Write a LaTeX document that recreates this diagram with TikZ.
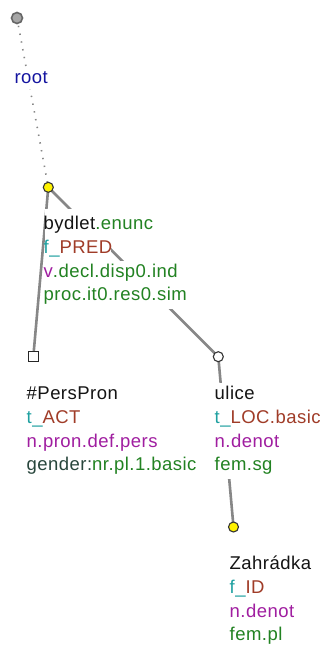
\documentclass[tikz,border=0pt]{standalone}
\usepackage{fontspec}
\setmainfont[LetterSpace=2.5]{Liberation Sans}
\usetikzlibrary{backgrounds}
\definecolor{lemma}{RGB}{20,20,20}
\definecolor{gr}{RGB}{34,130,34}
\definecolor{pu}{RGB}{160,30,160}
\definecolor{te}{RGB}{30,160,160}
\definecolor{br}{RGB}{160,60,40}
\definecolor{rootblue}{RGB}{20,20,160}
\definecolor{dslate}{RGB}{40,70,60}
\definecolor{edgegray}{RGB}{135,135,135}
\begin{document}
\begin{tikzpicture}[x=1pt,y=-1pt,
  lab/.style={anchor=base west,fill=white,inner ysep=0pt,inner xsep=-1.5pt,text height=16pt,text depth=8.5pt,font=\fontsize{18.5}{24}\selectfont},
  tnode/.style={circle,draw=black!80,line width=1.1pt,minimum size=10pt,inner sep=0pt},
  sqnode/.style={rectangle,draw=black!85,fill=white,line width=1.1pt,minimum size=10pt,inner sep=0pt},
  edge/.style={draw=edgegray,line width=2.6pt},
  rootedge/.style={draw=edgegray,line width=1.6pt,dash pattern=on 1.4pt off 6.5pt}]
\useasboundingbox (0,0) rectangle (324,648);
% tree nodes
\node[tnode,fill=gray!70,draw=black!60,line width=1.6pt,minimum size=11pt] (root) at (17,18) {};
\node[tnode,fill=yellow] (byd) at (48.3,187.3) {};
\node[sqnode] (pers) at (33.3,356.7) {};
\node[tnode,fill=white] (uli) at (218.3,356.7) {};
\node[tnode,fill=yellow] (zah) at (233.5,527) {};
% edges
\begin{scope}[on background layer]
\fill[white] (0,0) rectangle (324,648);
\draw[rootedge] (root.center) -- (byd.center);
\draw[edge] (byd.center) -- (pers.center);
\draw[edge] (byd.center) -- (uli.center);
\draw[edge] (uli.center) -- (zah.center);
\end{scope}
% labels
\node[lab,inner sep=2pt,text height=14pt,text depth=4pt,text=rootblue] (rl) at (12.3,83.3) {root};
\node[lab,text height=20pt] (b1) at (45,229.3) {\textcolor{lemma}{bydlet}\textcolor{gr}{.enunc}};
\node[lab] (b2) at (45,253) {\textcolor{te}{f\_}\textcolor{br}{PRED}};
\node[lab] (b3) at (45,277) {\textcolor{pu}{v}\textcolor{gr}{.decl.disp0.ind}};
\node[lab,text=gr] (b4) at (45,300.7) {proc.it0.res0.sim};
\node[lab,text=lemma] (p1) at (28,399.3) {\#PersPron};
\node[lab] (p2) at (28,423) {\textcolor{te}{t\_}\textcolor{br}{ACT}};
\node[lab,text=pu] (p3) at (28,447) {n.pron.def.pers};
\node[lab] (p4) at (28,470.7) {\textcolor{dslate}{gender:}\textcolor{gr}{nr.pl.1.basic}};
\node[lab,text=lemma] (u1) at (216,399.3) {ulice};
\node[lab] (u2) at (216,423) {\textcolor{te}{t\_}\textcolor{br}{LOC.basic}};
\node[lab,text=pu] (u3) at (216,447) {n.denot};
\node[lab,text=gr] (u4) at (216,470.7) {fem.sg};
\node[lab,text=lemma] (z1) at (231,569) {Zahrádka};
\node[lab] (z2) at (231,593) {\textcolor{te}{f\_}\textcolor{br}{ID}};
\node[lab,text=pu] (z3) at (231,617) {n.denot};
\node[lab,text=gr] (z4) at (231,640.7) {fem.pl};
\end{tikzpicture}
\end{document}
